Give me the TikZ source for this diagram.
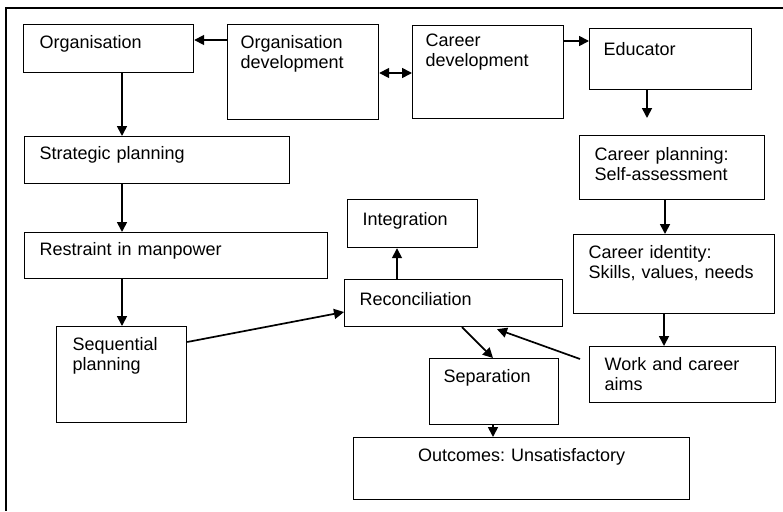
\documentclass[tikz,border=0pt]{standalone}
\usepackage{fontspec}
\setmainfont{Liberation Sans}
\usetikzlibrary{arrows.meta}
\frenchspacing
\begin{document}
\begin{tikzpicture}[x=1pt,y=-1pt,
  box/.style={draw, line width=1.2pt, anchor=north west, inner ysep=0pt,
    align=left, font=\fontsize{18}{20}\selectfont},
  arr/.style={line width=1.7pt, -{Triangle[length=10pt,width=10pt]}},
  arrboth/.style={line width=1.7pt, {Triangle[length=10pt,width=10pt]}-{Triangle[length=10pt,width=10pt]}}]
\useasboundingbox (0,0) rectangle (783,511);

% open frame along the top and left side
\draw[line width=1.5pt] (783,8) -- (6,8) -- (6,511);

% boxes
\node[box, inner xsep=16pt, text width=138pt, text height=24pt, text depth=24pt] (org) at (23,24) {Organisation};
\node[box, inner xsep=13pt, text width=125pt, text height=24pt, text depth=71pt] (odev) at (227,24) {Organisation\\development};
\node[box, inner xsep=13pt, text width=125pt, text height=21pt, text depth=72pt] (cdev) at (412,25) {Career\\development};
\node[box, inner xsep=14pt, text width=134pt, text height=27pt, text depth=34pt] (edu) at (589,28) {Educator};
\node[box, inner xsep=15pt, text width=235pt, text height=23pt, text depth=24pt] (strat) at (24,136) {Strategic planning};
\node[box, inner xsep=15pt, text width=273pt, text height=23pt, text depth=23pt] (restr) at (24,232) {Restraint in manpower};
\node[box, inner xsep=16pt, text width=98pt, text height=24pt, text depth=72pt] (seq) at (56,326) {Sequential\\planning};
\node[box, inner xsep=15pt, text width=100pt, text height=26pt, text depth=22pt] (integ) at (347,199) {Integration};
\node[box, inner xsep=15pt, text width=188pt, text height=26pt, text depth=21pt] (recon) at (344,279) {Reconciliation};
\node[box, inner xsep=15pt, text width=155pt, text height=25pt, text depth=39pt] (cplan) at (579,135) {Career planning:\\Self-assessment};
\node[box, inner xsep=15pt, text width=171pt, text height=24pt, text depth=55pt] (cid) at (573,234) {Career identity:\\Skills, values, needs};
\node[box, inner xsep=15pt, text width=156pt, text height=24pt, text depth=32pt] (work) at (589,346) {Work and career\\aims};
\node[box, inner xsep=14pt, text width=101pt, text height=24pt, text depth=42pt] (sep) at (429,358) {Separation};
\node[box, align=center, inner xsep=15pt, text width=306pt, text height=24pt, text depth=38pt] (out) at (353,437) {Outcomes: Unsatisfactory};

% free ends of connectors
\coordinate (eduend) at (647,118);
\coordinate (workstart) at (580,359);

% connectors
\draw[arr] ([yshift=-16pt]odev.north west) -- ([yshift=-16pt]org.north east);
\draw[arrboth] ([yshift=-49pt]odev.north east) -- ([yshift=-48pt]cdev.north west);
\draw[arr] ([yshift=-16pt]cdev.north east) -- ([yshift=-13pt]edu.north west);
\draw[arr] ([xshift=58pt]edu.south west) -- (eduend);
\draw[arr] ([xshift=99pt]org.south west) -- ([xshift=98pt]strat.north west);
\draw[arr] ([xshift=98pt]strat.south west) -- ([xshift=98pt]restr.north west);
\draw[arr] ([xshift=98pt]restr.south west) -- ([xshift=66pt]seq.north west);
\draw[arr] ([yshift=-16pt]seq.north east) -- ([yshift=-33pt]recon.north west);
\draw[arr] ([xshift=53pt]recon.south west |- recon.north) -- ([xshift=50pt]integ.south west);
\draw[arr] ([xshift=118pt]recon.south west) -- ([xshift=64pt]sep.north west);
\draw[arr] (workstart) -- ([xshift=153pt,yshift=-2pt]recon.south west);
\draw[arr] ([xshift=86pt]cplan.south west) -- ([xshift=92pt]cid.north west);
\draw[arr] ([xshift=91pt]cid.south west) -- ([xshift=75pt]work.north west);
\draw[arr] ([xshift=64pt]sep.south west) -- ([xshift=140pt]out.north west);
\end{tikzpicture}
\end{document}
